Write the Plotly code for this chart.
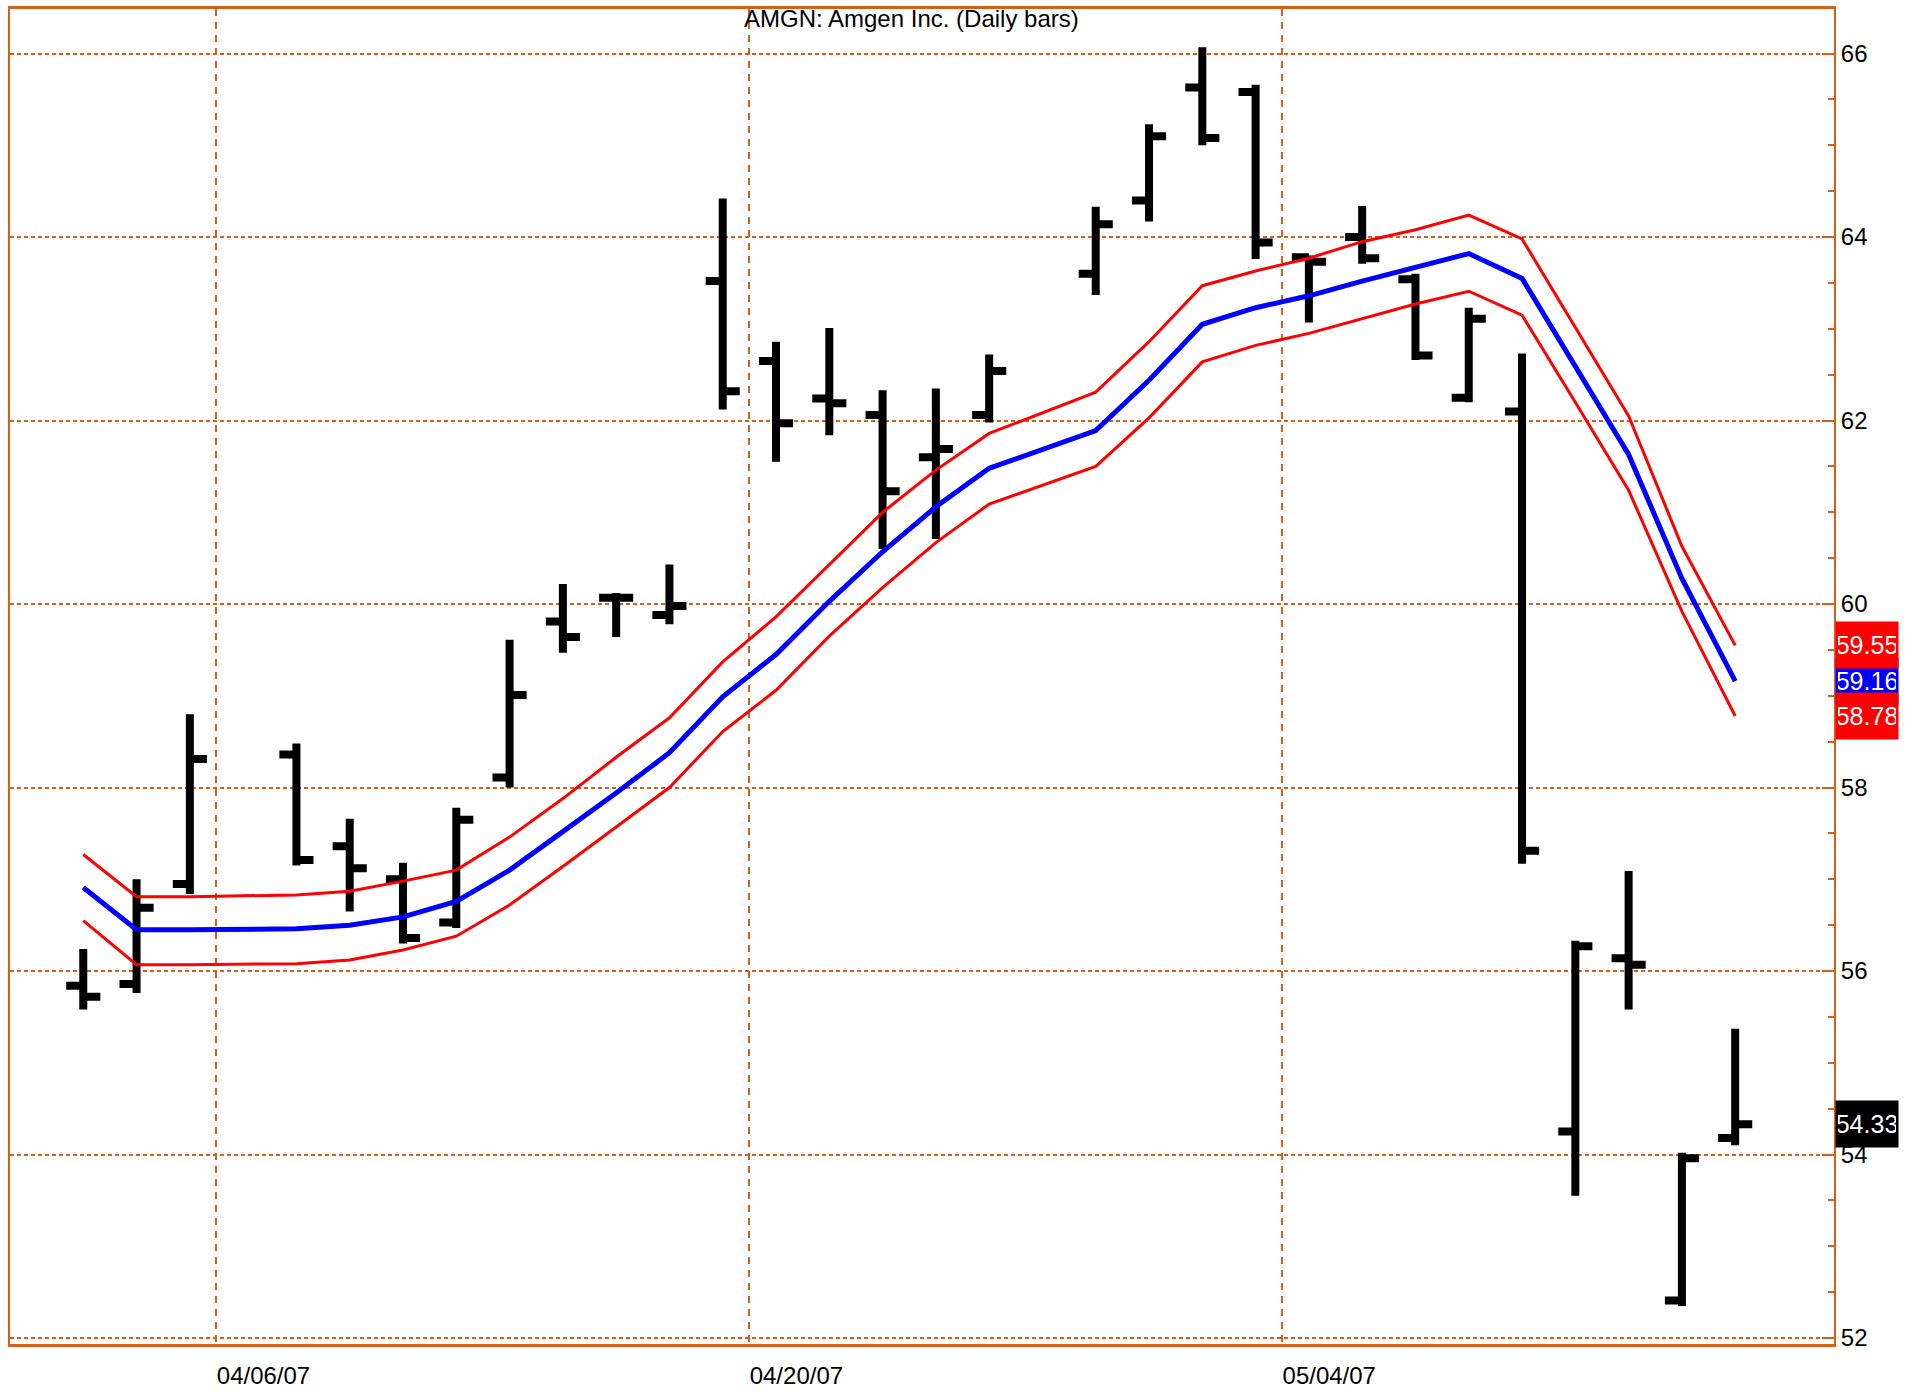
import plotly.graph_objects as go

# AMGN daily bars, 04/03/07 - 05/16/07
dates = [
    "2007-04-03", "2007-04-04", "2007-04-05", "2007-04-09", "2007-04-10",
    "2007-04-11", "2007-04-12", "2007-04-13", "2007-04-16", "2007-04-17",
    "2007-04-18", "2007-04-19", "2007-04-20", "2007-04-23", "2007-04-24",
    "2007-04-25", "2007-04-26", "2007-04-30", "2007-05-01", "2007-05-02",
    "2007-05-03", "2007-05-04", "2007-05-07", "2007-05-08", "2007-05-09",
    "2007-05-10", "2007-05-11", "2007-05-14", "2007-05-15", "2007-05-16",
]
opens = [55.84, 55.86, 56.95, 58.36, 57.36, 57.00, 56.53, 58.11, 59.81, 60.07,
         59.88, 63.52, 62.65, 62.24, 62.06, 61.60, 62.06, 63.60, 64.40, 65.63,
         65.58, 63.78, 64.00, 63.54, 62.25, 62.10, 54.25, 56.14, 52.41, 54.18]
highs = [56.24, 57.00, 58.80, 58.48, 57.66, 57.18, 57.78, 59.61, 60.22, 60.12,
         60.43, 64.42, 62.86, 63.01, 62.33, 62.35, 62.72, 64.33, 65.23, 66.07,
         65.66, 63.80, 64.34, 63.60, 63.23, 62.73, 56.33, 57.09, 54.02, 55.37]
lows = [55.58, 55.76, 56.84, 57.15, 56.65, 56.30, 56.47, 58.00, 59.47, 59.64,
        59.78, 62.12, 61.55, 61.84, 60.60, 60.71, 61.98, 63.37, 64.17, 65.00,
        63.76, 63.07, 63.71, 62.66, 62.20, 57.17, 53.55, 55.58, 52.35, 54.10]
closes = [55.72, 56.69, 58.31, 57.21, 57.12, 56.36, 57.65, 59.01, 59.64, 60.07,
          59.98, 62.32, 61.97, 62.19, 61.23, 61.69, 62.54, 64.14, 65.10, 65.08,
          63.94, 63.73, 63.77, 62.71, 63.11, 57.31, 56.27, 56.07, 53.96, 54.33]

# moving average envelope
ma_mid = [56.91, 56.45, 56.45, 56.46, 56.50, 56.59, 56.76, 57.10, 57.52, 57.94,
          58.38, 58.99, 59.45, 60.03, 60.57, 61.06, 61.48, 61.89, 62.44, 63.05,
          63.23, 63.36, 63.52, 63.67, 63.82, 63.55, 62.60, 61.63, 60.28, 59.16]
ma_upper = [57.27, 56.81, 56.81, 56.83, 56.87, 56.98, 57.10, 57.46, 57.88, 58.33,
            58.76, 59.37, 59.86, 60.43, 61.00, 61.46, 61.86, 62.31, 62.86, 63.47,
            63.63, 63.77, 63.95, 64.08, 64.24, 63.98, 63.01, 62.05, 60.63, 59.55]
ma_lower = [56.55, 56.07, 56.07, 56.08, 56.12, 56.23, 56.38, 56.72, 57.14, 57.57,
            58.00, 58.61, 59.06, 59.65, 60.18, 60.67, 61.09, 61.50, 62.03, 62.64,
            62.82, 62.95, 63.11, 63.27, 63.41, 63.15, 62.20, 61.24, 59.92, 58.78]

date_ticks = ["2007-04-06", "2007-04-20", "2007-05-04"]
title = "AMGN: Amgen Inc. (Daily bars)"

GRID = "#D2601E"
FONT = "Liberation Sans, Arial, sans-serif"

x = [d + " 12:00" for d in dates]

fig = go.Figure()

fig.add_trace(go.Ohlc(
    x=x, open=opens, high=highs, low=lows, close=closes,
    increasing=dict(line=dict(color="black", width=8)),
    decreasing=dict(line=dict(color="black", width=8)),
    tickwidth=0.32,
    hoverinfo="skip",
    showlegend=False,
))

fig.add_trace(go.Scatter(x=x, y=ma_upper, mode="lines",
                         line=dict(color="#FF0000", width=3), showlegend=False))
fig.add_trace(go.Scatter(x=x, y=ma_lower, mode="lines",
                         line=dict(color="#FF0000", width=3), showlegend=False))
fig.add_trace(go.Scatter(x=x, y=ma_mid, mode="lines",
                         line=dict(color="#0000FF", width=5), showlegend=False))

# last value tags on the price axis (blue first so red covers it)
tags = [
    (ma_mid[-1], "#0000FF"),
    (ma_upper[-1], "#FF0000"),
    (ma_lower[-1], "#FF0000"),
    (closes[-1], "black"),
]
for val, col in tags:
    fig.add_annotation(
        x=1, xref="paper", xanchor="left", xshift=1,
        y=val, yref="y", yanchor="middle",
        text=f"{val:.2f}", showarrow=False, bgcolor=col,
        width=58, height=42, borderpad=2,
        font=dict(family=FONT, size=25, color="white"),
    )

fig.add_annotation(
    x=0.4945, xref="paper", y=1, yref="paper", yanchor="top", yshift=6,
    text=title, showarrow=False,
    font=dict(family=FONT, size=24, color="black"),
)

fig.update_layout(
    width=1919, height=1395,
    margin=dict(l=10, r=85, t=6, b=47),
    paper_bgcolor="white", plot_bgcolor="white",
    font=dict(family=FONT, size=24, color="black"),
    xaxis=dict(
        type="date",
        rangeslider=dict(visible=False),
        rangebreaks=[dict(bounds=["sat", "mon"])],
        range=["2007-04-02 03:00", "2007-05-18 08:30"],
        tickvals=date_ticks,
        tickformat="%m/%d/%y",
        ticklabelshift=47,
        ticklabelstandoff=8,
        showgrid=True, gridcolor=GRID, gridwidth=2, griddash="7px,6px",
        showline=True, linecolor=GRID, linewidth=3, mirror=True,
        ticks="", zeroline=False,
    ),
    yaxis=dict(
        side="right",
        range=[51.935, 66.486],
        dtick=2, tick0=52,
        showgrid=True, gridcolor=GRID, gridwidth=2, griddash="4px,3px",
        showline=True, linecolor=GRID, linewidth=2, mirror=True,
        ticks="inside", ticklen=12, tickwidth=2, tickcolor=GRID,
        minor=dict(dtick=0.5, ticks="inside", ticklen=6, tickwidth=2,
                   tickcolor=GRID, showgrid=False),
        zeroline=False,
    ),
)

fig.write_html("out.html", config={"displayModeBar": False},
               post_script="document.body.style.margin='0';")
